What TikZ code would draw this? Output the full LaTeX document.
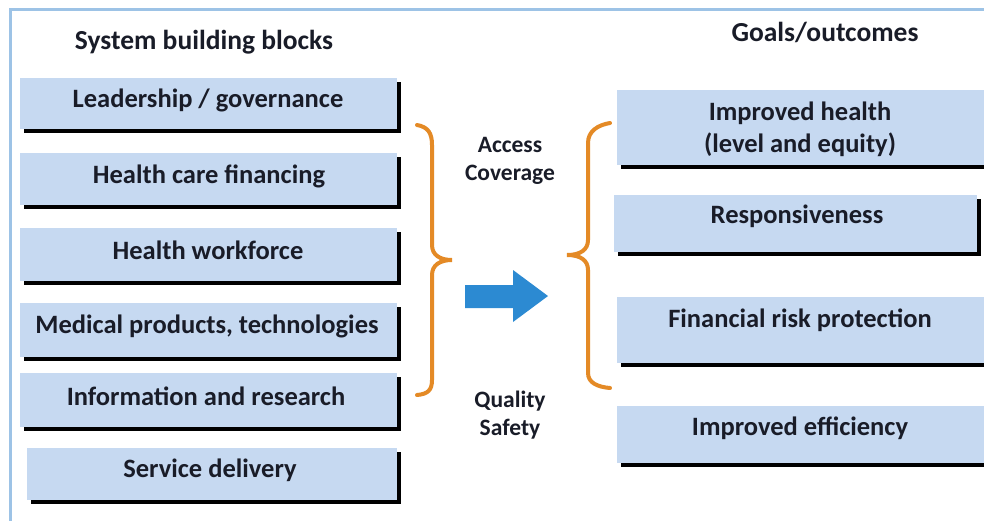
\documentclass[tikz,border=0pt]{standalone}
\usepackage{fontspec}
\setmainfont{Carlito}
\usetikzlibrary{shadows}
\definecolor{boxblue}{RGB}{198,217,241}
\definecolor{bordblue}{RGB}{157,195,230}
\definecolor{braceor}{RGB}{228,138,38}
\definecolor{arrblue}{RGB}{44,138,210}
\definecolor{txtcol}{RGB}{25,28,40}
\tikzset{
  blk/.style={fill=boxblue, draw=none, anchor=north west, inner sep=0pt,
    drop shadow={shadow xshift=4pt, shadow yshift=-4pt, fill=black, opacity=1}},
  txt/.style={font=\bfseries\fontsize{26.5}{32}\selectfont, text=txtcol, align=center, inner sep=0pt},
  ttl/.style={font=\bfseries\fontsize{27.5}{32}\selectfont, text=txtcol, inner sep=0pt},
  lbl/.style={font=\bfseries\fontsize{23.5}{28.5}\selectfont, text=txtcol, inner sep=0pt},
  bracestyle/.style={draw=braceor, line width=4pt, line cap=round}
}
\begin{document}
\begin{tikzpicture}[x=1pt,y=-1pt]
\useasboundingbox (0,0) rectangle (984,520);
\fill[white] (0,0) rectangle (984,520);
% frame
\draw[bordblue, line width=3pt] (10,525) -- (10,9) -- (990,9);
% titles
\node[ttl] (tl) at (204,42) {System building blocks};
\node[ttl] (tr) at (825,32) {Goals/outcomes};
% left boxes
\node[blk, minimum width=377pt, minimum height=51pt] (b1) at (20,78) {};
\node[blk, minimum width=377pt, minimum height=52pt] (b2) at (20,153) {};
\node[blk, minimum width=377pt, minimum height=53pt] (b3) at (20,228) {};
\node[blk, minimum width=377pt, minimum height=54pt] (b4) at (20,303) {};
\node[blk, minimum width=377pt, minimum height=54pt] (b5) at (20,373) {};
\node[blk, minimum width=370pt, minimum height=52pt] (b6) at (27,448) {};
\node[txt] (t1) at (208,100) {Leadership / governance};
\node[txt] (t2) at (209,176) {Health care financing};
\node[txt] (t3) at (208,250) {Health workforce};
\node[txt] (t4) at (207,326) {Medical products, technologies};
\node[txt] (t5) at (206,396) {Information and research};
\node[txt] (t6) at (210,470) {Service delivery};
% right boxes
\node[blk, minimum width=375pt, minimum height=75pt] (r1) at (617,90) {};
\node[blk, minimum width=363pt, minimum height=57pt] (r2) at (614,195) {};
\node[blk, minimum width=375pt, minimum height=66pt] (r3) at (617,297) {};
\node[blk, minimum width=375pt, minimum height=57pt] (r4) at (617,406) {};
\node[txt] (u1) at (800,129) {Improved health\\(level and equity)};
\node[txt] (u2) at (797,216) {Responsiveness};
\node[txt] (u3) at (800,320) {Financial risk protection};
\node[txt] (u4) at (800,428) {Improved efficiency};
% middle labels
\node[lbl, align=center] (ac) at (510,161) {Access\\Coverage};
\node[lbl, align=center] (qs) at (510,415) {Quality\\Safety};
% braces
\draw[bracestyle] (417,125) .. controls (428,127) and (432,133) .. (432,145) -- (432,245)
  .. controls (432,255) and (440,260) .. (452,260)
  .. controls (440,260) and (432,265) .. (432,275) -- (432,380)
  .. controls (432,390) and (428,394) .. (417,395);
\draw[bracestyle] (610,123) .. controls (598,125) and (588,131) .. (588,143) -- (588,240)
  .. controls (588,250) and (580,255) .. (567,255)
  .. controls (580,255) and (588,260) .. (588,270) -- (588,373)
  .. controls (588,383) and (598,387) .. (610,388);
% arrow
\fill[arrblue] (465,285) -- (513,285) -- (513,270) -- (548,296) -- (513,322) -- (513,308) -- (465,308) -- cycle;
\end{tikzpicture}
\end{document}
